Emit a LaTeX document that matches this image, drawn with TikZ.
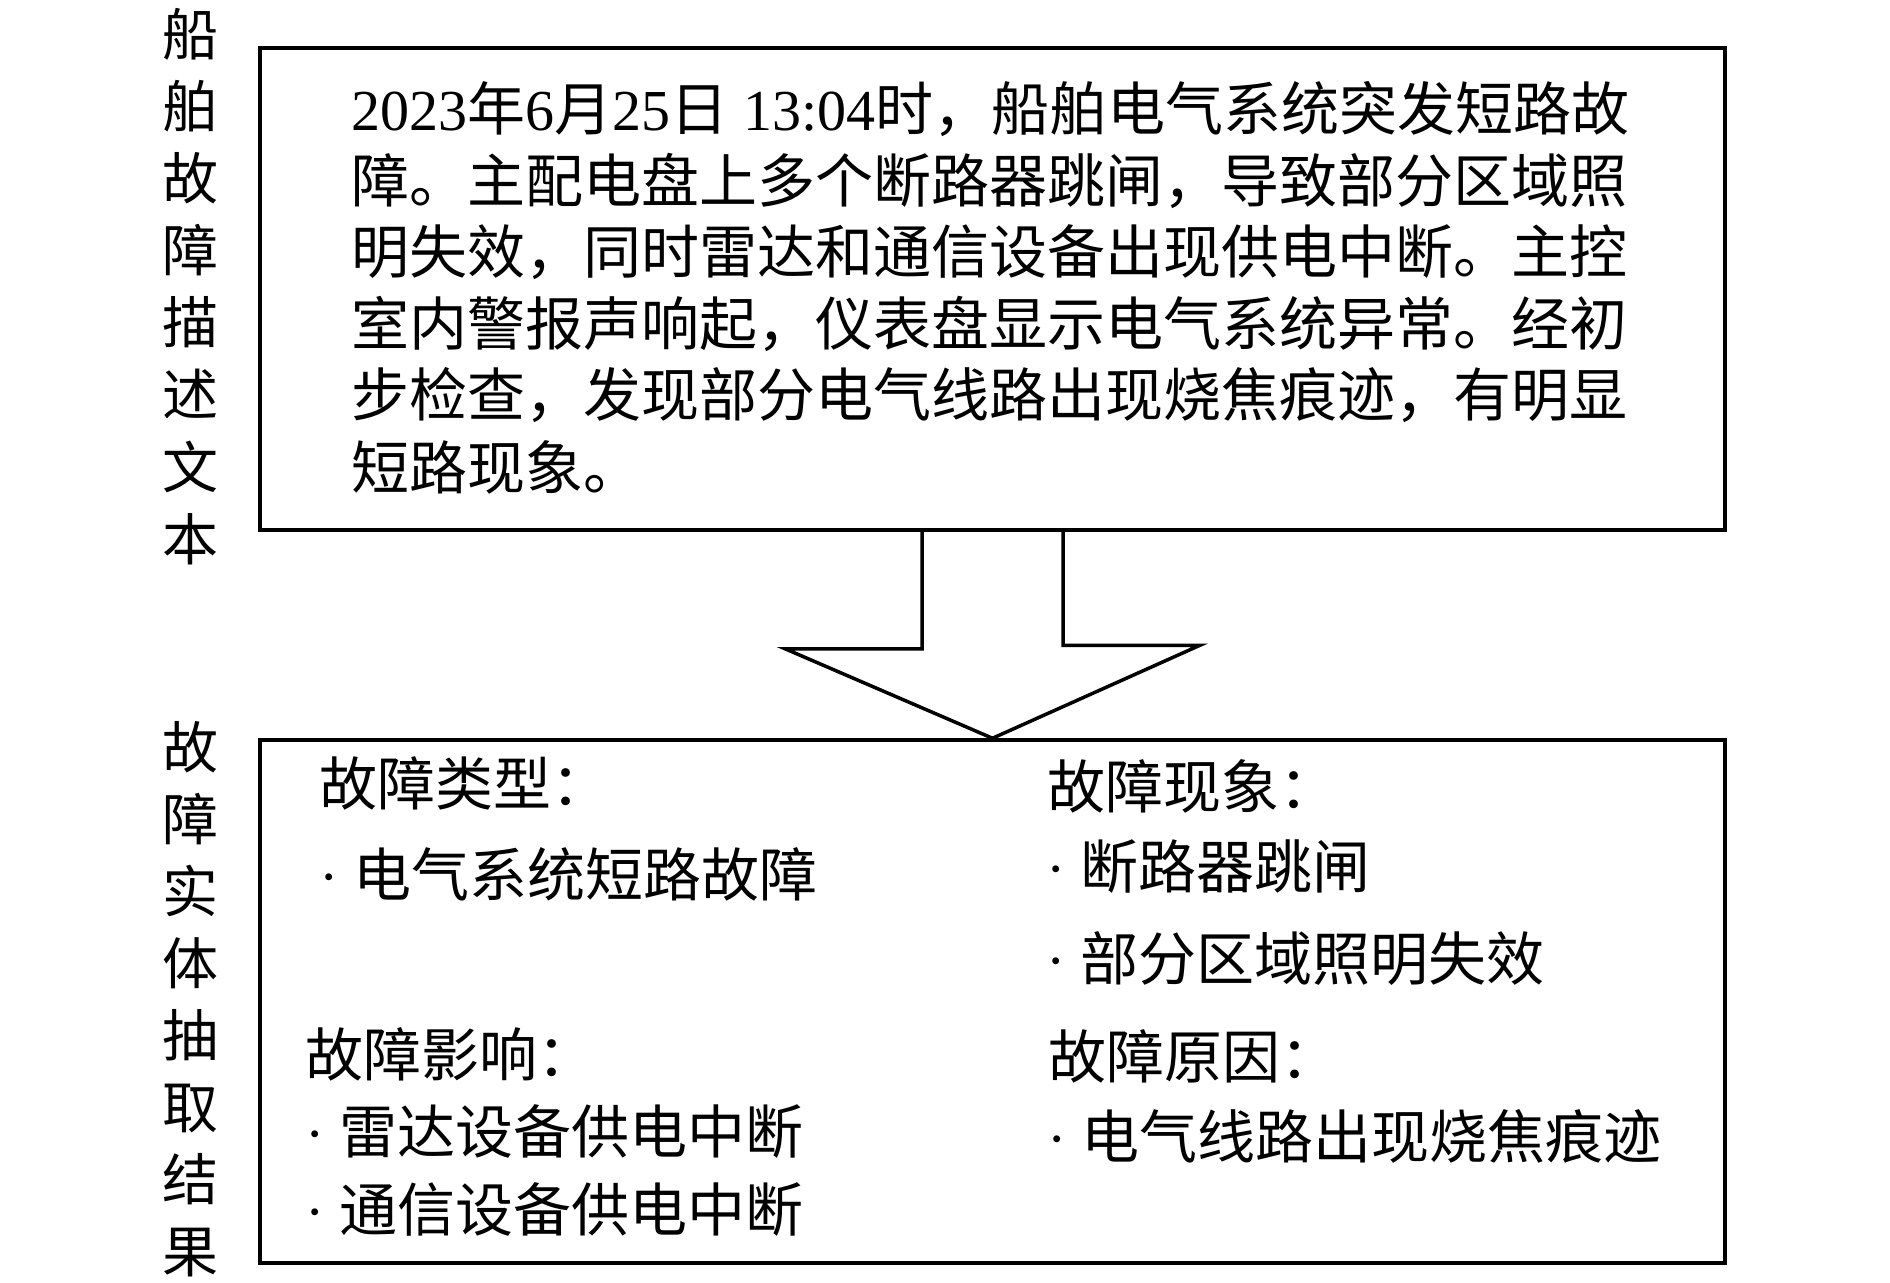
\documentclass[tikz,border=0pt]{standalone}
\usepackage{fontspec}
\setmainfont{Liberation Serif}
\newfontfamily\cjk{Noto Sans CJK SC}
\usetikzlibrary{calc}
\begin{document}
\begin{tikzpicture}[x=0.5pt,y=-0.5pt,line width=1.75pt,
  framebox/.style={draw, line width=1.75pt, minimum width=732.5pt, inner sep=0pt},
  bodytxt/.style={anchor=base west, inner sep=0pt, font=\cjk\fontsize{29pt}{35pt}\selectfont},
  bodylatin/.style={anchor=base west, inner sep=0pt, font=\fontsize{29pt}{35pt}\selectfont},
  itemtxt/.style={anchor=base west, inner sep=0pt, font=\cjk\fontsize{29pt}{34pt}\selectfont},
  vchar/.style={anchor=base, inner sep=0pt, font=\cjk\fontsize{28pt}{34pt}\selectfont}]
\useasboundingbox (0,0) rectangle (1890,1283);
% boxes
\node[framebox, minimum height=241pt] (top) at (992.5,289) {};
\node[framebox, minimum height=261.5pt] (bot) at (992.5,1001.5) {};
% block arrow
\coordinate (al) at ($(top.south)+(-70.5,0)$);
\coordinate (ar) at ($(top.south)+(70.5,0)$);
\draw[line join=miter] (al) -- ++(0,117) -- ++(-137,0) -- (bot.north)
  -- ($(bot.north)+(207.5,-93)$) -- ++(-137,0) -- (ar);
% left vertical labels
\foreach \c [count=\i from 0] in {船,舶,故,障,描,述,文,本}
  \node[vchar] (va\i) at (190,56+72*\i) {\c};
\foreach \c [count=\i from 0] in {故,障,实,体,抽,取,结,果}
  \node[vchar] (vb\i) at (190,768+72*\i) {\c};
% top box text
\node[bodylatin] (t1) at (350,131) {2023{\cjk 年}6{\cjk 月}25{\cjk 日} 13:04{\cjk 时，船舶电气系统突发短路故}};
\node[bodytxt] (t2) at (350,203) {障。主配电盘上多个断路器跳闸，导致部分区域照};
\node[bodytxt] (t3) at (350,274) {明失效，同时雷达和通信设备出现供电中断。主控};
\node[bodytxt] (t4) at (350,346) {室内警报声响起，仪表盘显示电气系统异常。经初};
\node[bodytxt] (t5) at (350,417) {步检查，发现部分电气线路出现烧焦痕迹，有明显};
\node[bodytxt] (t6) at (350,489) {短路现象。};
% bottom box text
\node[itemtxt] (h1) at (318,805) {故障类型：};
\node[itemtxt] (i1) at (318,896) {{\rmfamily ·~}电气系统短路故障};
\node[itemtxt] (h2) at (304,1076) {故障影响：};
\node[itemtxt] (i2) at (304,1153) {{\rmfamily ·~}雷达设备供电中断};
\node[itemtxt] (i3) at (304,1231) {{\rmfamily ·~}通信设备供电中断};
\node[itemtxt] (h3) at (1046,808) {故障现象：};
\node[itemtxt] (i4) at (1045,888) {{\rmfamily ·~}断路器跳闸};
\node[itemtxt] (i5) at (1045,980) {{\rmfamily ·~}部分区域照明失效};
\node[itemtxt] (h4) at (1047,1078) {故障原因：};
\node[itemtxt] (i6) at (1046,1158) {{\rmfamily ·~}电气线路出现烧焦痕迹};
\end{tikzpicture}
\end{document}
